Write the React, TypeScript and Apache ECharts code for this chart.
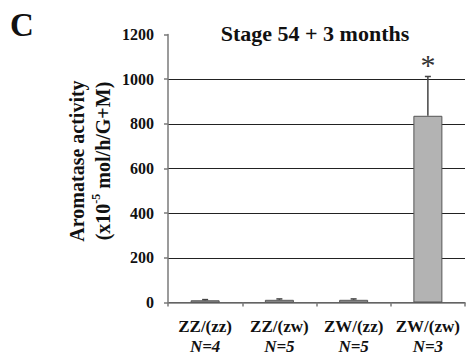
import React, { useEffect, useRef } from "react";
import * as echarts from "echarts";

const categories = ["ZZ/(zz)", "ZZ/(zw)", "ZW/(zz)", "ZW/(zw)"];
const sampleSizes = ["N=4", "N=5", "N=5", "N=3"];
const means = [10, 12, 12, 836];
const errors = [3, 4, 4, 176];
const significance = ["", "", "", "*"];
const yMin = 0;
const yMax = 1200;
const yStep = 200;

const FONT = "Liberation Serif";

export default function App() {
  const ref = useRef<HTMLDivElement>(null);
  useEffect(() => {
    if (!ref.current) return;
    const chart = echarts.init(ref.current, null, { renderer: "svg" });
    const errData = categories.map((_, i) => [i, means[i], errors[i]]);
    chart.setOption({
      animation: false,
      backgroundColor: "#ffffff",
      textStyle: { fontFamily: FONT },
      grid: { left: 168, right: 7, top: 34.5, bottom: 52.3 },
      xAxis: {
        type: "category",
        data: categories,
        axisLine: { lineStyle: { color: "#7a7a7a", width: 1.5 } },
        axisTick: { show: true, length: 4, lineStyle: { color: "#7a7a7a", width: 1.5 } },
        axisLabel: {
          interval: 0,
          margin: 14,
          formatter: (v: string, i: number) => `{a|${v}}\n{b|${sampleSizes[i]}}`,
          rich: {
            a: { fontFamily: FONT, fontSize: 17, fontWeight: "bold", color: "#111", lineHeight: 20 },
            b: { fontFamily: FONT, fontSize: 17, fontWeight: "bold", fontStyle: "italic", color: "#111", lineHeight: 20 },
          },
        },
      },
      yAxis: {
        type: "value",
        min: yMin,
        max: yMax,
        interval: yStep,
        axisLine: { show: true, lineStyle: { color: "#7a7a7a", width: 1.5 } },
        axisTick: { show: true, length: 4, lineStyle: { color: "#7a7a7a", width: 1.5 } },
        axisLabel: {
          fontFamily: FONT,
          fontSize: 16,
          fontWeight: "bold",
          color: "#111",
          margin: 14,
          formatter: (v: number) => String(v),
        },
        splitLine: { show: true, showMaxLine: false, lineStyle: { color: "#222", width: 1.2 } },
      },
      series: [
        {
          type: "bar",
          data: means,
          barWidth: 29,
          itemStyle: { color: "#b3b3b3", borderColor: "#555", borderWidth: 1 },
          z: 2,
        },
        {
          type: "custom",
          data: errData,
          z: 3,
          renderItem: (params: any, api: any) => {
            const i = api.value(0);
            const v = api.value(1);
            const e = api.value(2);
            const base = api.coord([i, v]);
            const top = api.coord([i, v + e]);
            const children: any[] = [
              { type: "line", shape: { x1: base[0], y1: base[1], x2: top[0], y2: top[1] }, style: { stroke: "#444", lineWidth: 1.5 } },
              { type: "line", shape: { x1: top[0] - 3, y1: top[1], x2: top[0] + 3, y2: top[1] }, style: { stroke: "#444", lineWidth: 1.5 } },
            ];
            const sig = significance[params.dataIndex];
            if (sig) {
              children.push({
                type: "text",
                x: top[0],
                y: top[1] + 3,
                style: { text: sig, fontFamily: FONT, fontSize: 30, fill: "#333", textAlign: "center", textVerticalAlign: "bottom" },
              });
            }
            return { type: "group", children };
          },
        },
      ],
      graphic: [
        {
          type: "text",
          left: 10,
          top: 8,
          style: { text: "C", fontFamily: FONT, fontSize: 33, fontWeight: "bold", fill: "#111" },
        },
        {
          type: "text",
          x: 315,
          y: 33,
          style: { text: "Stage 54 + 3 months", fontFamily: FONT, fontSize: 22, fontWeight: "bold", fill: "#111", textAlign: "center", textVerticalAlign: "middle" },
        },
        {
          type: "text",
          x: 90,
          y: 161,
          rotation: Math.PI / 2,
          style: {
            text: "{a|Aromatase activity}\n{a|(x10}{s|-5}{a| mol/h/G+M)}",
            fontFamily: FONT,
            fontWeight: "bold",
            fontSize: 20,
            fill: "#111",
            textAlign: "center",
            textVerticalAlign: "middle",
            rich: {
              a: { fontFamily: FONT, fontSize: 20, fontWeight: "bold", color: "#111", lineHeight: 26 },
              s: { fontFamily: FONT, fontSize: 12, fontWeight: "bold", color: "#111", lineHeight: 26, verticalAlign: "top" },
            },
          },
        },
      ],
    });
    return () => chart.dispose();
  }, []);
  return <div ref={ref} style={{ width: 472, height: 355, position: "absolute", left: 0, top: 0 }} />;
}
